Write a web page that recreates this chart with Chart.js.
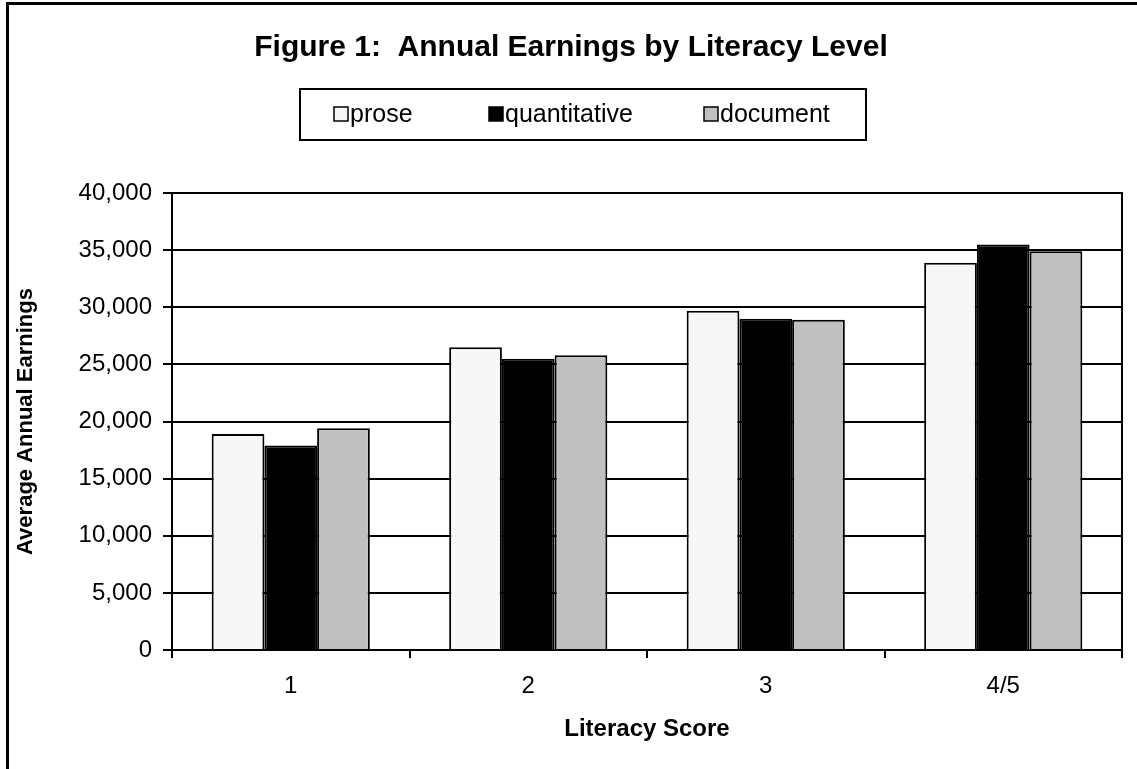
<!DOCTYPE html>
<html>
<head>
<meta charset="utf-8">
<script src="https://cdn.jsdelivr.net/npm/chart.js@4.4.1/dist/chart.umd.min.js"></script>
<style>
  html, body { margin: 0; padding: 0; background: #fff; }
  #wrap { position: relative; width: 1137px; height: 769px; overflow: hidden; }
  #frame { position: absolute; left: 6px; top: 2px; width: 1300px; height: 900px;
           border-left: 3px solid #000; border-top: 3px solid #000; pointer-events: none; }
  canvas { position: absolute; left: 0; top: 0; }
</style>
</head>
<body>
<div id="wrap">
  <canvas id="mychart" width="1137" height="769"></canvas>
  <div id="frame"></div>
</div>
<script>
// literacy score groups along the x-axis
var categories = ['1', '2', '3', '4/5'];
// average annual earnings
var prose = [18900, 26500, 29700, 33900];
var quantitative = [17900, 25500, 29000, 35500];
var documentScores = [19400, 25800, 28900, 34900];
var yTickValues = [0, 5000, 10000, 15000, 20000, 25000, 30000, 35000, 40000];

var seriesNames = ['prose', 'quantitative', 'document'];
var fills = ['#f7f7f7', '#000000', '#c0c0c0'];
var fontFamily = '"Liberation Sans", Arial, sans-serif';

// legend in a framed box, like the original
var boxLegend = {
  id: 'boxLegend',
  afterDraw: function (chart) {
    var ctx = chart.ctx;
    ctx.save();
    ctx.lineWidth = 2;
    ctx.strokeStyle = '#000';
    ctx.strokeRect(300, 89, 566, 51);
    var starts = [334, 489, 704];
    ctx.font = '25px ' + fontFamily;
    ctx.textBaseline = 'middle';
    chart.data.datasets.forEach(function (ds, i) {
      var x = starts[i];
      ctx.fillStyle = ds.backgroundColor;
      ctx.fillRect(x, 107, 14, 14);
      ctx.lineWidth = 1.5;
      ctx.strokeStyle = '#000';
      ctx.strokeRect(x, 107, 14, 14);
      ctx.fillStyle = '#000';
      ctx.fillText(ds.label, x + 16, 115);
    });
    ctx.restore();
  }
};

// box round the plot area
var plotFrame = {
  id: 'plotFrame',
  beforeDatasetsDraw: function (chart) {
    var a = chart.chartArea, ctx = chart.ctx;
    ctx.save();
    ctx.lineWidth = 2;
    ctx.strokeStyle = '#000';
    ctx.strokeRect(a.left, a.top, a.right - a.left, a.bottom - a.top);
    ctx.restore();
  }
};

var ctx = document.getElementById('mychart');
var myChart = new Chart(ctx, {
  type: 'bar',
  data: {
    labels: categories,
    datasets: [prose, quantitative, documentScores].map(function (vals, i) {
      return {
        label: seriesNames[i],
        data: vals,
        backgroundColor: fills[i],
        borderColor: '#000',
        borderWidth: 2,
        categoryPercentage: 0.666,
        barPercentage: 1.0
      };
    })
  },
  options: {
    responsive: false,
    animation: false,
    layout: { padding: { left: 20, right: 15, top: 0, bottom: 0 } },
    plugins: {
      legend: { display: false },
      tooltip: { enabled: false },
      title: {
        display: true,
        text: 'Figure 1:  Annual Earnings by Literacy Level',
        color: '#000',
        font: { family: fontFamily, size: 30, weight: 'bold', lineHeight: 1.2 },
        padding: { top: 30, bottom: 127 }
      }
    },
    scales: {
      x: {
        afterFit: function (s) { s.height = 119; },
        grid: { drawOnChartArea: false, drawTicks: true, tickLength: 8, color: '#000', lineWidth: 2 },
        border: { color: '#000', width: 2 },
        ticks: { color: '#000', padding: 14, font: { family: fontFamily, size: 24 } },
        title: {
          display: true, text: 'Literacy Score', color: '#000',
          font: { family: fontFamily, size: 24, weight: 'bold' },
          padding: { top: 4, bottom: 25 }
        }
      },
      y: {
        min: 0,
        max: 40000,
        afterFit: function (s) { s.width = 152; },
        afterBuildTicks: function (s) {
          s.ticks = yTickValues.map(function (v) { return { value: v }; });
        },
        grid: { color: '#000', lineWidth: 2, tickLength: 9, drawTicks: true },
        border: { color: '#000', width: 2 },
        ticks: {
          color: '#000', padding: 11,
          font: { family: fontFamily, size: 24 },
          callback: function (v) { return v.toLocaleString('en-US'); }
        },
        title: {
          display: true, text: 'Average Annual Earnings', color: '#000',
          font: { family: fontFamily, size: 22, weight: 'bold', lineHeight: 0.5 },
          padding: { top: 0, bottom: 0 }
        }
      }
    }
  },
  plugins: [boxLegend, plotFrame]
});
</script>
</body>
</html>
